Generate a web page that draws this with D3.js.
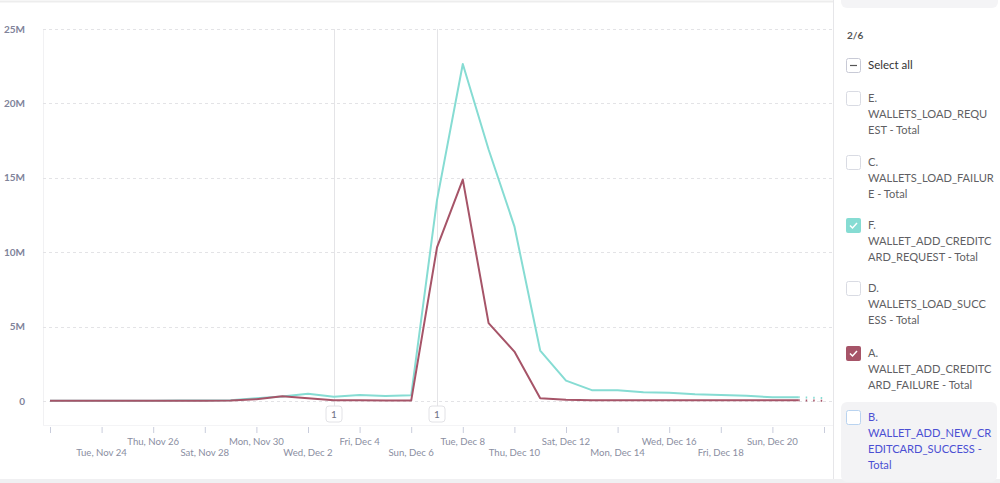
<!DOCTYPE html>
<html>
<head>
<meta charset="utf-8">
<script src="https://cdn.jsdelivr.net/npm/d3@7"></script>
<style>
  html, body { margin: 0; padding: 0; background: #fff; }
  svg { display: block; font-family: Lato, "Noto Sans", sans-serif; }
</style>
</head>
<body>
<svg id="chart" width="1000" height="483"></svg>
<script>
// ---- data ----
const dates = ["2020-11-22","2020-11-23","2020-11-24","2020-11-25","2020-11-26","2020-11-27","2020-11-28",
  "2020-11-29","2020-11-30","2020-12-01","2020-12-02","2020-12-03","2020-12-04","2020-12-05","2020-12-06",
  "2020-12-07","2020-12-08","2020-12-09","2020-12-10","2020-12-11","2020-12-12","2020-12-13","2020-12-14",
  "2020-12-15","2020-12-16","2020-12-17","2020-12-18","2020-12-19","2020-12-20","2020-12-21","2020-12-22"];
// F. WALLET_ADD_CREDITCARD_REQUEST - Total (millions)
const seriesF = [0.02,0.02,0.02,0.02,0.02,0.03,0.03,0.05,0.18,0.3,0.48,0.29,0.4,0.33,0.38,
  13.5,22.65,16.9,11.74,3.39,1.37,0.73,0.72,0.58,0.55,0.45,0.4,0.35,0.25,0.25,0.2];
// A. WALLET_ADD_CREDITCARD_FAILURE - Total (millions)
const seriesA = [0.01,0.01,0.01,0.01,0.01,0.01,0.01,0.03,0.12,0.32,0.18,0.05,0.05,0.04,0.03,
  10.32,14.88,5.23,3.32,0.18,0.08,0.05,0.05,0.05,0.05,0.05,0.05,0.05,0.05,0.05,0.02];
const yTicks = [0, 5, 10, 15, 20, 25];
const yTickLabels = ["0", "5M", "10M", "15M", "20M", "25M"];
const xTickDates = ["2020-11-22","2020-11-24","2020-11-26","2020-11-28","2020-11-30","2020-12-02","2020-12-04",
  "2020-12-06","2020-12-08","2020-12-10","2020-12-12","2020-12-14","2020-12-16","2020-12-18","2020-12-20","2020-12-22"];
const xLabelDates = ["2020-11-24","2020-11-26","2020-11-28","2020-11-30","2020-12-02","2020-12-04","2020-12-06",
  "2020-12-08","2020-12-10","2020-12-12","2020-12-14","2020-12-16","2020-12-18","2020-12-20"];
const annotationDates = ["2020-12-03", "2020-12-07"];
const annotationLabels = ["1", "1"];
const legendCount = "2/6";
const legendItems = [
  {lines: ["E.", "WALLETS_LOAD_REQU", "EST - Total"], checked: false, color: null},
  {lines: ["C.", "WALLETS_LOAD_FAILUR", "E - Total"], checked: false, color: null},
  {lines: ["F.", "WALLET_ADD_CREDITC", "ARD_REQUEST - Total"], checked: true, color: "#86dcd3"},
  {lines: ["D.", "WALLETS_LOAD_SUCC", "ESS - Total"], checked: false, color: null},
  {lines: ["A.", "WALLET_ADD_CREDITC", "ARD_FAILURE - Total"], checked: true, color: "#a65468"},
  {lines: ["B.", "WALLET_ADD_NEW_CR", "EDITCARD_SUCCESS -", "Total"], checked: false, color: null, hover: true}
];

// ---- setup ----
const svg = d3.select("#chart");
const parse = d3.timeParse("%Y-%m-%d");
const X0 = 50, X1 = 824, Y0 = 401, Y1 = 29;
const x = d3.scaleTime().domain([parse(dates[0]), parse(dates[dates.length-1])]).range([X0, X1]);
const y = d3.scaleLinear().domain([0, 25]).range([Y0, Y1]);

// frame lines
svg.append("line").attr("x1",0).attr("x2",833).attr("y1",1.5).attr("y2",1.5).attr("stroke","#ededed").attr("stroke-width",2);
svg.append("rect").attr("x",0).attr("y",479).attr("width",1000).attr("height",4).attr("fill","#f0f0f2");
svg.append("line").attr("x1",833.5).attr("x2",833.5).attr("y1",0).attr("y2",479).attr("stroke","#e6e6e9");
svg.append("line").attr("x1",43.5).attr("x2",43.5).attr("y1",Y1).attr("y2",425).attr("stroke","#f1f1f3");
svg.append("line").attr("x1",43).attr("x2",833).attr("y1",425.5).attr("y2",425.5).attr("stroke","#f4f4f6");

// grid
svg.append("g").selectAll("line").data(yTicks).join("line")
  .attr("x1", 43).attr("x2", 833)
  .attr("y1", d => Math.round(y(d)) + 0.5).attr("y2", d => Math.round(y(d)) + 0.5)
  .attr("stroke", "#e3e3e6").attr("stroke-dasharray", "3,3");

// y axis labels
svg.append("g").selectAll("text").data(yTicks).join("text")
  .attr("x", 25).attr("y", d => y(d)).attr("dy", "0.35em")
  .attr("text-anchor", "end").attr("font-size", 10).attr("font-weight", 700)
  .attr("fill", "#80839a")
  .text((d, i) => yTickLabels[i]);

// x axis ticks via d3 axis
const xAxis = d3.axisBottom(x).tickValues(xTickDates.map(parse)).tickSize(6).tickFormat("");
const gx = svg.append("g").attr("transform", "translate(0,427)").call(xAxis);
gx.select(".domain").remove();
gx.selectAll(".tick line").attr("stroke", "#c9cddc");

const fmt = d3.timeFormat("%a, %b %-d");
svg.append("g").selectAll("text").data(xLabelDates).join("text")
  .attr("x", d => x(parse(d)))
  .attr("y", (d, i) => i % 2 === 0 ? 453 : 442)
  .attr("dy", "0.35em")
  .attr("text-anchor", "middle").attr("font-size", 9.6).attr("fill", "#8a8ea1")
  .text(d => fmt(parse(d)));

// annotation lines
svg.append("g").selectAll("line").data(annotationDates).join("line")
  .attr("x1", d => Math.round(x(parse(d))) + 0.5).attr("x2", d => Math.round(x(parse(d))) + 0.5)
  .attr("y1", Y1).attr("y2", 406)
  .attr("stroke", "#e4e4e7").attr("stroke-width", 1);

// lines
const pts = vals => vals.map((v, i) => [parse(dates[i]), v]);
const line = d3.line().x(d => x(d[0])).y(d => y(d[1]));
function drawSeries(vals, color) {
  const p = pts(vals);
  svg.append("path").attr("d", line(p.slice(0, p.length - 1)))
    .attr("fill", "none").attr("stroke", color).attr("stroke-width", 2).attr("stroke-linejoin", "round");
  svg.append("path").attr("d", line(p.slice(p.length - 2)))
    .attr("fill", "none").attr("stroke", color).attr("stroke-width", 2).attr("stroke-dasharray", "1.5,6");
}
drawSeries(seriesF, "#86dcd3");
drawSeries(seriesA, "#a65468");

// annotation markers
const ann = svg.append("g").selectAll("g").data(annotationDates).join("g")
  .attr("transform", d => `translate(${Math.round(x(parse(d)))},414)`);
ann.append("rect").attr("x", -8).attr("y", -8).attr("width", 16).attr("height", 16).attr("rx", 3)
  .attr("fill", "#fff").attr("stroke", "#e2e2e6");
ann.append("text").attr("text-anchor", "middle").attr("dy", "0.35em").attr("font-size", 10)
  .attr("fill", "#6e7185").text((d, i) => annotationLabels[i]);

// ---- legend panel ----
const lg = svg.append("g");
lg.append("rect").attr("x", 841).attr("y", -10).attr("width", 157).attr("height", 18).attr("rx", 6).attr("fill", "#f4f4f6");
lg.append("text").attr("x", 847).attr("y", 35).attr("dy", "0.35em").attr("font-size", 10).attr("font-weight", 700)
  .attr("fill", "#555").text(legendCount);
// select all
lg.append("rect").attr("x", 846.5).attr("y", 58.5).attr("width", 14).attr("height", 14).attr("rx", 2)
  .attr("fill", "#fff").attr("stroke", "#c8cad6");
lg.append("line").attr("x1", 850).attr("x2", 857).attr("y1", 65.5).attr("y2", 65.5).attr("stroke", "#555").attr("stroke-width", 1.2);
lg.append("text").attr("x", 868).attr("y", 65).attr("dy", "0.35em").attr("font-size", 11.5).attr("fill", "#333").text("Select all");

const itemTops = [91, 155, 218, 281, 346, 410];
legendItems.forEach((it, i) => {
  const top = itemTops[i];
  if (it.hover) {
    lg.append("rect").attr("x", 841).attr("y", top - 8).attr("width", 156).attr("height", 80).attr("rx", 6).attr("fill", "#f3f3f5");
  }
  if (it.checked) {
    lg.append("rect").attr("x", 846).attr("y", top).attr("width", 15).attr("height", 15).attr("rx", 2).attr("fill", it.color);
    lg.append("path").attr("d", `M${850},${top + 7.5} L${852.5},${top + 10} L${857},${top + 5}`)
      .attr("fill", "none").attr("stroke", "#fff").attr("stroke-width", 1.5);
  } else {
    lg.append("rect").attr("x", 846.5).attr("y", top + 0.5).attr("width", 14).attr("height", 14).attr("rx", 2)
      .attr("fill", "#fff").attr("stroke", it.hover ? "#b9d3f0" : "#d9dbe3");
  }
  it.lines.forEach((t, j) => {
    lg.append("text").attr("x", 868).attr("y", top + 7 + j * 16).attr("dy", "0.35em")
      .attr("font-size", 11.1).attr("fill", it.hover ? "#4b4fd3" : "#5f5f64").text(t);
  });
});
</script>
</body>
</html>
